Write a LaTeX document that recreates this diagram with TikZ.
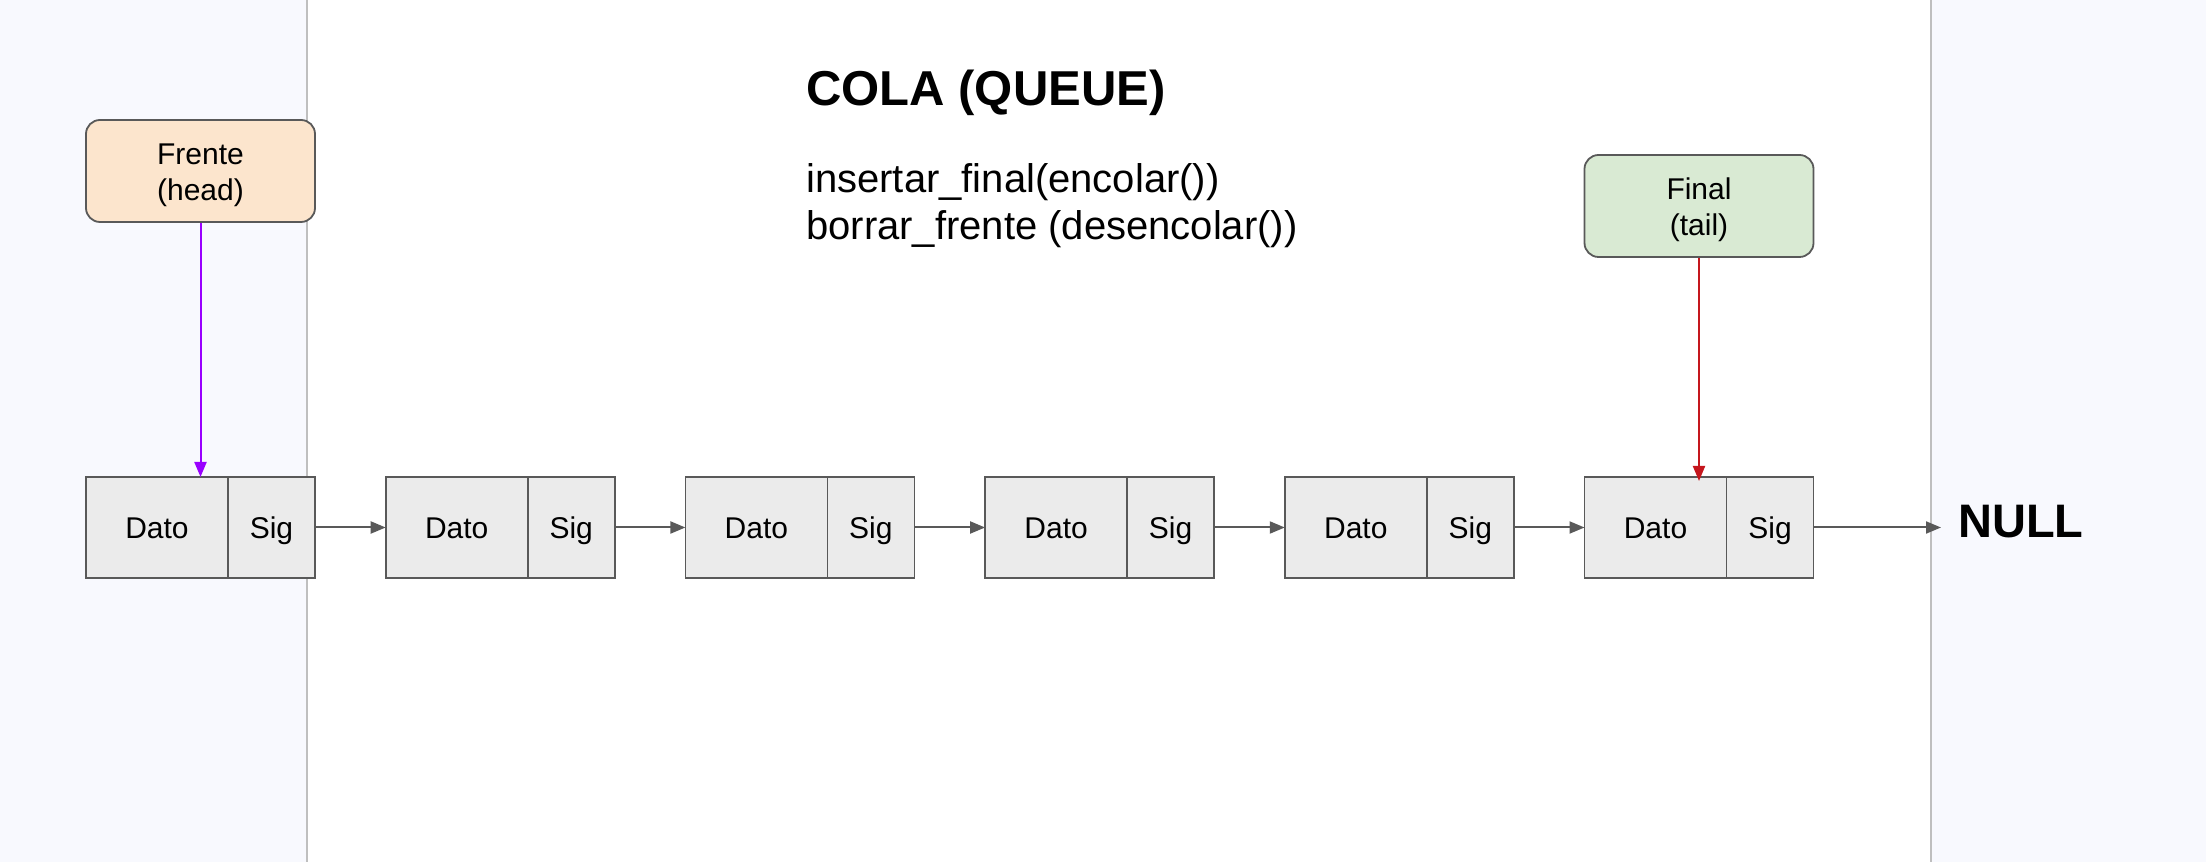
\documentclass[tikz,border=0pt]{standalone}
\usepackage{fontspec}
\setmainfont{Liberation Sans}
\usetikzlibrary{positioning,arrows.meta}
\definecolor{panel}{HTML}{F8F9FE}
\definecolor{panelline}{HTML}{BFBFBF}
\definecolor{cellfill}{HTML}{EBEBEB}
\definecolor{edge}{HTML}{595959}
\definecolor{headfill}{HTML}{FCE5CD}
\definecolor{tailfill}{HTML}{D9EAD3}
\definecolor{headarrow}{HTML}{9900FF}
\definecolor{tailarrow}{HTML}{C5161D}
\tikzset{>={Triangle[length=15pt,width=12pt]}}
\tikzset{
  cell/.style={draw=edge,fill=cellfill,line width=1.8pt,minimum height=101pt,inner sep=0pt,outer sep=0pt,text height=29pt,text depth=6pt,font=\fontsize{30}{34}\selectfont},
  pointer/.style={draw=edge,rounded corners=14pt,line width=1.8pt,minimum width=229pt,minimum height=102pt,align=center,text height=66pt,text depth=6pt,font=\fontsize{30}{36}\selectfont},
  link/.style={->,draw=edge,line width=2pt}
}

\begin{document}
\begin{tikzpicture}[x=1pt,y=1pt]
\useasboundingbox (0,0) rectangle (2206,862);
\fill[panel] (0,0) rectangle (307,862);
\fill[panel] (1931,0) rectangle (2206,862);
\draw[panelline,line width=2pt] (307,0) -- (307,862);
\draw[panelline,line width=2pt] (1931,0) -- (1931,862);
\node[anchor=west,inner sep=0pt,font=\bfseries\fontsize{49}{56}\selectfont] (title) at (806,769) {COLA (QUEUE)};
\node[anchor=west,inner sep=0pt,align=left,font=\fontsize{40}{47}\selectfont] (ops) at (806,656) {insertar\_final(encolar())\\borrar\_frente (desencolar())};
\foreach \i in {1,...,6}{
  \node[cell,minimum width=142pt,anchor=west] (d\i) at ({86+299.7*(\i-1)},334.5) {Dato};
  \node[cell,minimum width=87pt,right=0pt of d\i] (s\i) {Sig};
}
\foreach \i/\j in {1/2,2/3,3/4,4/5,5/6}
  \draw[link] (s\i) -- (d\j);
\coordinate (end) at (1941,334.5);
\draw[link] (s6) -- (end);
\node[anchor=west,inner sep=0pt,font=\bfseries\fontsize{47}{56}\selectfont] (null) at (1958,340) {NULL};
\node[pointer,fill=headfill] (head) at (200.5,691) {Frente\\(head)};
\node[pointer,fill=tailfill] (tail) at (1699,656) {Final\\(tail)};
\draw[->,headarrow,line width=2pt] (head) -- (head |- d1.north);
\draw[->,tailarrow,line width=2pt] (tail) -- ([yshift=-4pt]tail |- d6.north);
\end{tikzpicture}
\end{document}
